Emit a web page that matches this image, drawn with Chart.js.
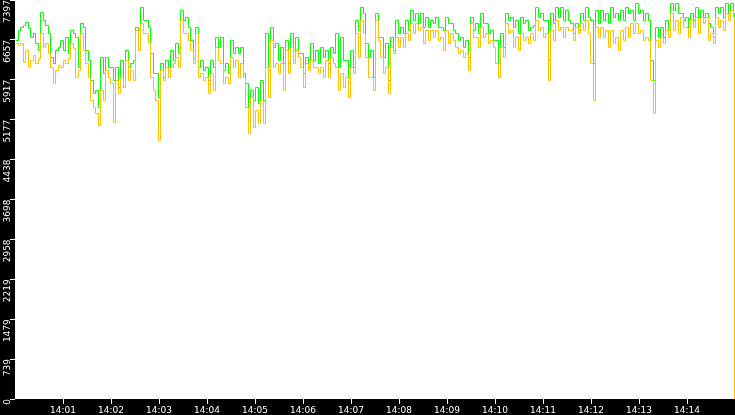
<!DOCTYPE html>
<html>
<head>
<meta charset="utf-8">
<script src="https://cdn.jsdelivr.net/npm/chart.js@4"></script>
<style>
html,body{margin:0;padding:0;background:#000;}
#c{display:block;}
</style>
</head>
<body>
<canvas id="c" width="735" height="415"></canvas>
<script>
// ---- data ----
// two samples per bin; bins are 6.25 s long, samples at 0 s and 3.75 s into each bin (seconds since 14:00:00)
const binSeconds = 6.25;
const sampleOffsets = [0, 3.75];
const lastSecond = 898.75;     // final sample time
const yMax = 7397;
const yTickLabels = ['0','739','1479','2219','2958','3698','4438','5177','5917','6657','7397'];
const xTickLabels = ['14:01','14:02','14:03','14:04','14:05','14:06','14:07','14:08','14:09','14:10','14:11','14:12','14:13','14:14'];

const greenSeries = [
6656,6841,6897,6934,6989,6878,6711,6785,6600,6470,7175,7026,6934,6785,6340,6229,6470,6526,6656,6470,
6711,6415,6841,6785,6711,6155,6971,6897,6470,6285,5914,5673,5729,5413,6340,6044,6340,6155,6155,5914,
6155,5784,6285,5784,6470,6155,6229,6285,6897,6841,7267,7026,7026,6897,6415,6044,6044,5599,6229,5970,
6285,6155,6470,6285,6600,6415,7212,7026,7082,6897,6656,6340,6897,6155,6285,6099,6155,5914,6285,6155,
6711,6526,6711,6099,6229,6044,6656,6415,6526,6415,6526,6044,5858,5413,5729,5543,5784,5488,5914,5543,
6785,6099,6897,6526,6600,6285,6526,6229,6656,6229,6785,6470,6711,6415,6415,6044,6340,6155,6600,6285,
6470,6229,6526,6340,6470,6229,6526,6415,6785,6155,6711,6285,6285,5970,6470,6155,7026,6841,7267,7156,
6600,6340,6470,5970,7156,6711,6711,6340,6600,5914,6711,6470,7026,6785,6897,6785,7026,6841,7212,7026,
7156,6971,7156,6897,7082,6897,7026,6971,7082,6897,6897,6841,7082,6971,6971,6841,6785,6656,6711,6526,
6656,6340,7082,6841,6971,6785,7156,6971,6971,6785,6841,6656,6656,5970,6785,6526,7156,7026,7082,6897,
7026,6785,7082,6971,7026,6841,6897,6934,7267,7082,7156,7026,7026,6285,7156,6971,7267,7082,7267,7026,
7212,7026,6971,6785,6971,6841,7156,7026,7267,7082,7026,6229,7212,6971,7212,7026,7156,6971,7267,7082,
7156,7026,7212,7026,7267,7156,7212,7026,7341,7156,7212,7026,7156,7026,6285,5914,6897,6711,6897,6711,
7026,6841,7341,7212,7341,7156,7156,7026,7082,6897,7156,7026,7267,7082,7212,7082,7156,6971,6897,6711,
7267,7156,7267,7082,7341,7156,7341,7156,
3485];

const orangeSeries = [
6600,6563,6600,6248,6470,6155,6285,6377,6229,6322,6785,6526,6600,6415,6155,5858,6099,6192,6155,6285,
6229,6322,6600,6507,5970,6099,6785,6470,6229,5970,5543,5413,5302,5080,5729,5543,6099,5970,5858,5135,
5914,5673,5970,5784,6285,5914,6099,5914,6841,6470,6971,6785,6785,6600,5970,5729,5543,4802,6099,5914,
6155,5970,6155,6229,6340,6155,7026,6785,6785,6656,6470,6229,6785,5970,6044,5914,5970,5673,6044,5729,
6526,6285,6229,5858,5970,5858,6340,6155,6285,5970,6229,5970,5413,4931,5599,5043,5358,5117,5543,5117,
6155,5599,6656,6155,6229,6044,6229,5729,6470,6044,6526,6229,6470,6340,6155,5784,6229,6099,6285,6155,
6155,6044,6155,5970,6285,5970,6340,6229,6155,5729,6044,5784,5970,5599,6155,6044,6785,6340,7026,6785,
6340,5970,5970,5729,7026,6656,6340,6044,6155,5673,6526,6415,6711,6526,6711,6526,6785,6656,6971,6785,
6971,6841,6897,6600,6841,6656,6841,6711,6841,6656,6711,6470,6841,6600,6785,6656,6526,6415,6470,6340,
6415,6099,6971,6711,6711,6526,6897,6711,6785,6600,6656,6526,6229,5970,6526,6340,6971,6785,6841,6526,
6711,6470,6785,6656,6711,6600,6785,6656,7026,6841,6897,6711,6785,5914,6841,6656,7026,6841,6897,6711,
6897,6841,6841,6656,6897,6785,6971,6841,7026,6785,6229,5543,6897,6711,6897,6711,6841,6526,6841,6600,
6711,6470,6841,6656,6897,6711,6971,6785,6971,6785,6841,6656,6711,6656,5914,5302,6656,6526,6711,6600,
6841,6711,7156,6841,7026,6785,7082,6897,6897,6711,7026,6897,7082,6785,7082,6971,7082,6656,6785,6600,
7082,6897,7026,6841,7156,7026,7212,7082,
0];

// ---- sample index -> time (seconds) ----
function sampleTime(i, n) {
  if (i === n - 1) return lastSecond;
  return Math.floor(i / 2) * binSeconds + sampleOffsets[i % 2];
}
function toPoints(arr) {
  return arr.map((v, i) => ({ x: sampleTime(i, arr.length), y: v }));
}

const bgPlugin = {
  id: 'bg',
  beforeDraw(chart) {
    const ctx = chart.ctx, a = chart.chartArea;
    ctx.save();
    ctx.fillStyle = '#000';
    ctx.fillRect(0, 0, chart.width, chart.height);
    ctx.fillStyle = '#fff';
    ctx.fillRect(a.left, a.top, a.right - a.left, a.bottom - a.top);
    ctx.restore();
  },
  beforeDatasetsDraw(chart) {
    chart.ctx.save();
    chart.ctx.translate(0.5, 0.5);
  },
  afterDatasetsDraw(chart) {
    chart.ctx.restore();
  }
};

const font = { family: 'DejaVu Sans', size: 9 };

new Chart(document.getElementById('c'), {
  type: 'line',
  data: {
    datasets: [
      { label: 'orange', data: toPoints(orangeSeries), borderColor: '#ffc000', borderWidth: 1, pointRadius: 0, stepped: true, fill: false },
      { label: 'green', data: toPoints(greenSeries), borderColor: '#00ff00', borderWidth: 1, pointRadius: 0, stepped: true, fill: false }
    ]
  },
  options: {
    responsive: false,
    animation: false,
    devicePixelRatio: 1,
    layout: { padding: 0 },
    plugins: { legend: { display: false }, tooltip: { enabled: false }, title: { display: false } },
    elements: { line: { tension: 0 } },
    scales: {
      x: {
        type: 'linear',
        min: 0,
        max: 900,
        border: { display: false },
        grid: { drawOnChartArea: false, drawTicks: true, tickLength: 5, tickColor: '#fff', lineWidth: 1 },
        ticks: {
          color: '#fff', font: font, padding: 1, maxRotation: 0, minRotation: 0, autoSkip: false,
          callback: (v) => xTickLabels[Math.round(v / 60) - 1]
        },
        afterBuildTicks: (s) => { s.ticks = xTickLabels.map((_, i) => ({ value: (i + 1) * 60 })); },
        afterFit: (s) => { s.height = 16; s.paddingLeft = 0; s.paddingRight = 0; s.paddingTop = 0; s.paddingBottom = 0; }
      },
      y: {
        type: 'linear',
        min: 0,
        max: yMax,
        border: { display: false },
        grid: { drawOnChartArea: false, drawTicks: true, tickLength: 5, tickColor: '#fff', lineWidth: 1 },
        ticks: {
          color: '#fff', font: font, padding: 2, minRotation: 90, maxRotation: 90, autoSkip: false,
          callback: (v, i) => yTickLabels[i]
        },
        afterBuildTicks: (s) => { s.ticks = yTickLabels.map((_, i) => ({ value: i * yMax / 10 })); },
        afterFit: (s) => { s.width = 15; s.paddingLeft = 0; s.paddingRight = 0; s.paddingTop = 0; s.paddingBottom = 0; }
      }
    }
  },
  plugins: [bgPlugin]
});
</script>
</body>
</html>
